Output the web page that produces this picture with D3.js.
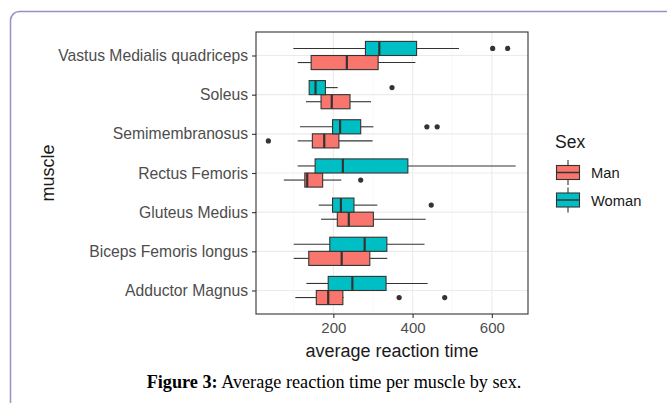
<!DOCTYPE html>
<html>
<head>
<meta charset="utf-8">
<script src="https://cdn.jsdelivr.net/npm/d3@7"></script>
<style>
  body { margin: 0; background: #fff; }
  svg { display: block; }
</style>
</head>
<body>
<svg id="chart" width="667" height="403"></svg>
<script>
// categories, bottom to top (ggplot factor order)
const muscles = ["Adductor Magnus", "Biceps Femoris longus", "Gluteus Medius", "Rectus Femoris",
  "Semimembranosus", "Soleus", "Vastus Medialis quadriceps"];
const sexes = ["Man", "Woman"];

// Man box stats, one per muscle
const manLow  = [104, 100, 169, 75, 110, 131, 110];
const manQ1   = [157, 138, 210, 128, 147, 169, 144];
const manMed  = [187, 221, 239, 134, 177, 196, 234];
const manQ3   = [224, 292, 301, 173, 214, 242, 313];
const manHigh = [226, 336, 433, 220, 299, 295, 407];
const manOut  = [[366, 481], [], [], [269], [36], [], []];

// Woman box stats
const womanLow  = [132, 100, 163, 110, 116, 139, 99];
const womanQ1   = [187, 191, 198, 154, 198, 139, 281];
const womanMed  = [248, 279, 219, 224, 217, 155, 316];
const womanQ3   = [333, 335, 252, 388, 269, 180, 410];
const womanHigh = [438, 430, 311, 660, 301, 211, 517];
const womanOut  = [[], [], [447], [], [436, 462], [348], [602, 640]];

const xTicks = [200, 400, 600];
const xMinor = [100, 300, 500];

const fillColor = { Man: "#F8766D", Woman: "#00BFC4" };

const boxes = [];
muscles.forEach((m, i) => {
  boxes.push({ muscle: m, sex: "Man", low: manLow[i], q1: manQ1[i], med: manMed[i], q3: manQ3[i], high: manHigh[i], out: manOut[i] });
  boxes.push({ muscle: m, sex: "Woman", low: womanLow[i], q1: womanQ1[i], med: womanMed[i], q3: womanQ3[i], high: womanHigh[i], out: womanOut[i] });
});

const svg = d3.select('#chart');
const font = "'Liberation Sans', Arial, sans-serif";

// page frame (rounded box the figure sits in)
svg.append('rect')
  .attr('x', 10.5).attr('y', 11.5)
  .attr('width', 700).attr('height', 420)
  .attr('rx', 9)
  .attr('fill', 'none')
  .attr('stroke', '#9494c4')
  .attr('stroke-width', 1.5);

const panel = { left: 256, right: 528, top: 32, bottom: 314 };

// x range with ggplot's 5% expansion
const allVals = boxes.flatMap(b => [b.low, b.high, ...b.out]);
const lo = d3.min(allVals), hi = d3.max(allVals);
const pad = (hi - lo) * 0.05;
const x = d3.scaleLinear()
  .domain([lo - pad, hi + pad])
  .range([panel.left, panel.right]);

const y = d3.scalePoint()
  .domain(muscles)
  .range([panel.bottom, panel.top])
  .padding(0.6);

const dodge = d3.scaleBand()
  .domain(["Woman", "Man"])
  .range([-y.step() * 0.36, y.step() * 0.36]);

// grid
const grid = svg.append('g');
grid.selectAll('.minor')
  .data(xMinor)
  .join('line')
  .attr('x1', d => x(d)).attr('x2', d => x(d))
  .attr('y1', panel.top).attr('y2', panel.bottom)
  .attr('stroke', '#f3f3f3').attr('stroke-width', 0.6);
grid.selectAll('.majx')
  .data(xTicks)
  .join('line')
  .attr('x1', d => x(d)).attr('x2', d => x(d))
  .attr('y1', panel.top).attr('y2', panel.bottom)
  .attr('stroke', '#ebebeb').attr('stroke-width', 1.1);
grid.selectAll('.majy')
  .data(muscles)
  .join('line')
  .attr('x1', panel.left).attr('x2', panel.right)
  .attr('y1', d => y(d)).attr('y2', d => y(d))
  .attr('stroke', '#ebebeb').attr('stroke-width', 1.1);

// boxes
const g = svg.append('g')
  .selectAll('g')
  .data(boxes)
  .join('g')
  .attr('transform', d => `translate(0,${y(d.muscle) + dodge(d.sex)})`);

const bh = dodge.bandwidth();

g.append('line')
  .attr('x1', d => x(d.low)).attr('x2', d => x(d.q1))
  .attr('y1', bh / 2).attr('y2', bh / 2)
  .attr('stroke', '#333').attr('stroke-width', 1.1);
g.append('line')
  .attr('x1', d => x(d.q3)).attr('x2', d => x(d.high))
  .attr('y1', bh / 2).attr('y2', bh / 2)
  .attr('stroke', '#333').attr('stroke-width', 1.1);
g.append('rect')
  .attr('x', d => x(d.q1))
  .attr('y', 0)
  .attr('width', d => x(d.q3) - x(d.q1))
  .attr('height', bh)
  .attr('fill', d => fillColor[d.sex])
  .attr('stroke', '#333').attr('stroke-width', 1.1);
g.append('line')
  .attr('x1', d => x(d.med)).attr('x2', d => x(d.med))
  .attr('y1', 0).attr('y2', bh)
  .attr('stroke', '#333').attr('stroke-width', 2.2);
g.selectAll('circle')
  .data(d => d.out)
  .join('circle')
  .attr('cx', d => x(d))
  .attr('cy', bh / 2)
  .attr('r', 2.6)
  .attr('fill', '#333');

// panel border
svg.append('rect')
  .attr('x', panel.left).attr('y', panel.top)
  .attr('width', panel.right - panel.left)
  .attr('height', panel.bottom - panel.top)
  .attr('fill', 'none')
  .attr('stroke', '#333').attr('stroke-width', 1.1);

// axes
const xAxis = svg.append('g')
  .attr('transform', `translate(0,${panel.bottom})`)
  .call(d3.axisBottom(x).tickValues(xTicks).tickSize(4).tickPadding(4).tickSizeOuter(0));
const yAxis = svg.append('g')
  .attr('transform', `translate(${panel.left},0)`)
  .call(d3.axisLeft(y).tickSize(4).tickPadding(4).tickSizeOuter(0));

[xAxis, yAxis].forEach(a => {
  a.select('.domain').remove();
  a.selectAll('.tick line').attr('stroke', '#333').attr('stroke-width', 1.1);
  a.selectAll('.tick text')
    .attr('fill', '#4d4d4d')
    .style('font-family', font)
    .style('font-size', '15px');
});
yAxis.selectAll('.tick text').style('font-size', '15.7px');

svg.append('text')
  .attr('x', (panel.left + panel.right) / 2)
  .attr('y', 357)
  .attr('text-anchor', 'middle')
  .style('font-family', font)
  .style('font-size', '18px')
  .attr('fill', '#1a1a1a')
  .text('average reaction time');

svg.append('text')
  .attr('transform', `translate(54,${(panel.top + panel.bottom) / 2}) rotate(-90)`)
  .attr('text-anchor', 'middle')
  .style('font-family', font)
  .style('font-size', '18px')
  .attr('fill', '#1a1a1a')
  .text('muscle');

// legend
const legend = svg.append('g').attr('transform', 'translate(555,0)');
legend.append('text')
  .attr('x', 0).attr('y', 148)
  .style('font-family', font)
  .style('font-size', '17.5px')
  .attr('fill', '#1a1a1a')
  .text('Sex');

const key = legend.selectAll('.key')
  .data(sexes)
  .join('g')
  .attr('transform', (d, i) => `translate(0,${160 + i * 27.5})`);
key.append('line')
  .attr('x1', 13).attr('x2', 13)
  .attr('y1', 0).attr('y2', 25)
  .attr('stroke', '#333').attr('stroke-width', 1.1);
key.append('rect')
  .attr('x', 1.5).attr('y', 5.5)
  .attr('width', 23).attr('height', 14)
  .attr('fill', d => fillColor[d])
  .attr('stroke', '#333').attr('stroke-width', 1.1);
key.append('line')
  .attr('x1', 1.5).attr('x2', 24.5)
  .attr('y1', 12.5).attr('y2', 12.5)
  .attr('stroke', '#333').attr('stroke-width', 1.5);
key.append('text')
  .attr('x', 36).attr('y', 13)
  .attr('dy', '0.35em')
  .style('font-family', font)
  .style('font-size', '14.7px')
  .attr('fill', '#1a1a1a')
  .text(d => d);

// caption
const cap = svg.append('text')
  .attr('x', 334).attr('y', 388)
  .attr('text-anchor', 'middle')
  .style('font-family', "'Liberation Serif', 'Times New Roman', serif")
  .style('font-size', '18.2px')
  .attr('fill', '#000');
cap.append('tspan').attr('font-weight', 'bold').text('Figure 3:');
cap.append('tspan').text(' Average reaction time per muscle by sex.');
</script>
</body>
</html>
